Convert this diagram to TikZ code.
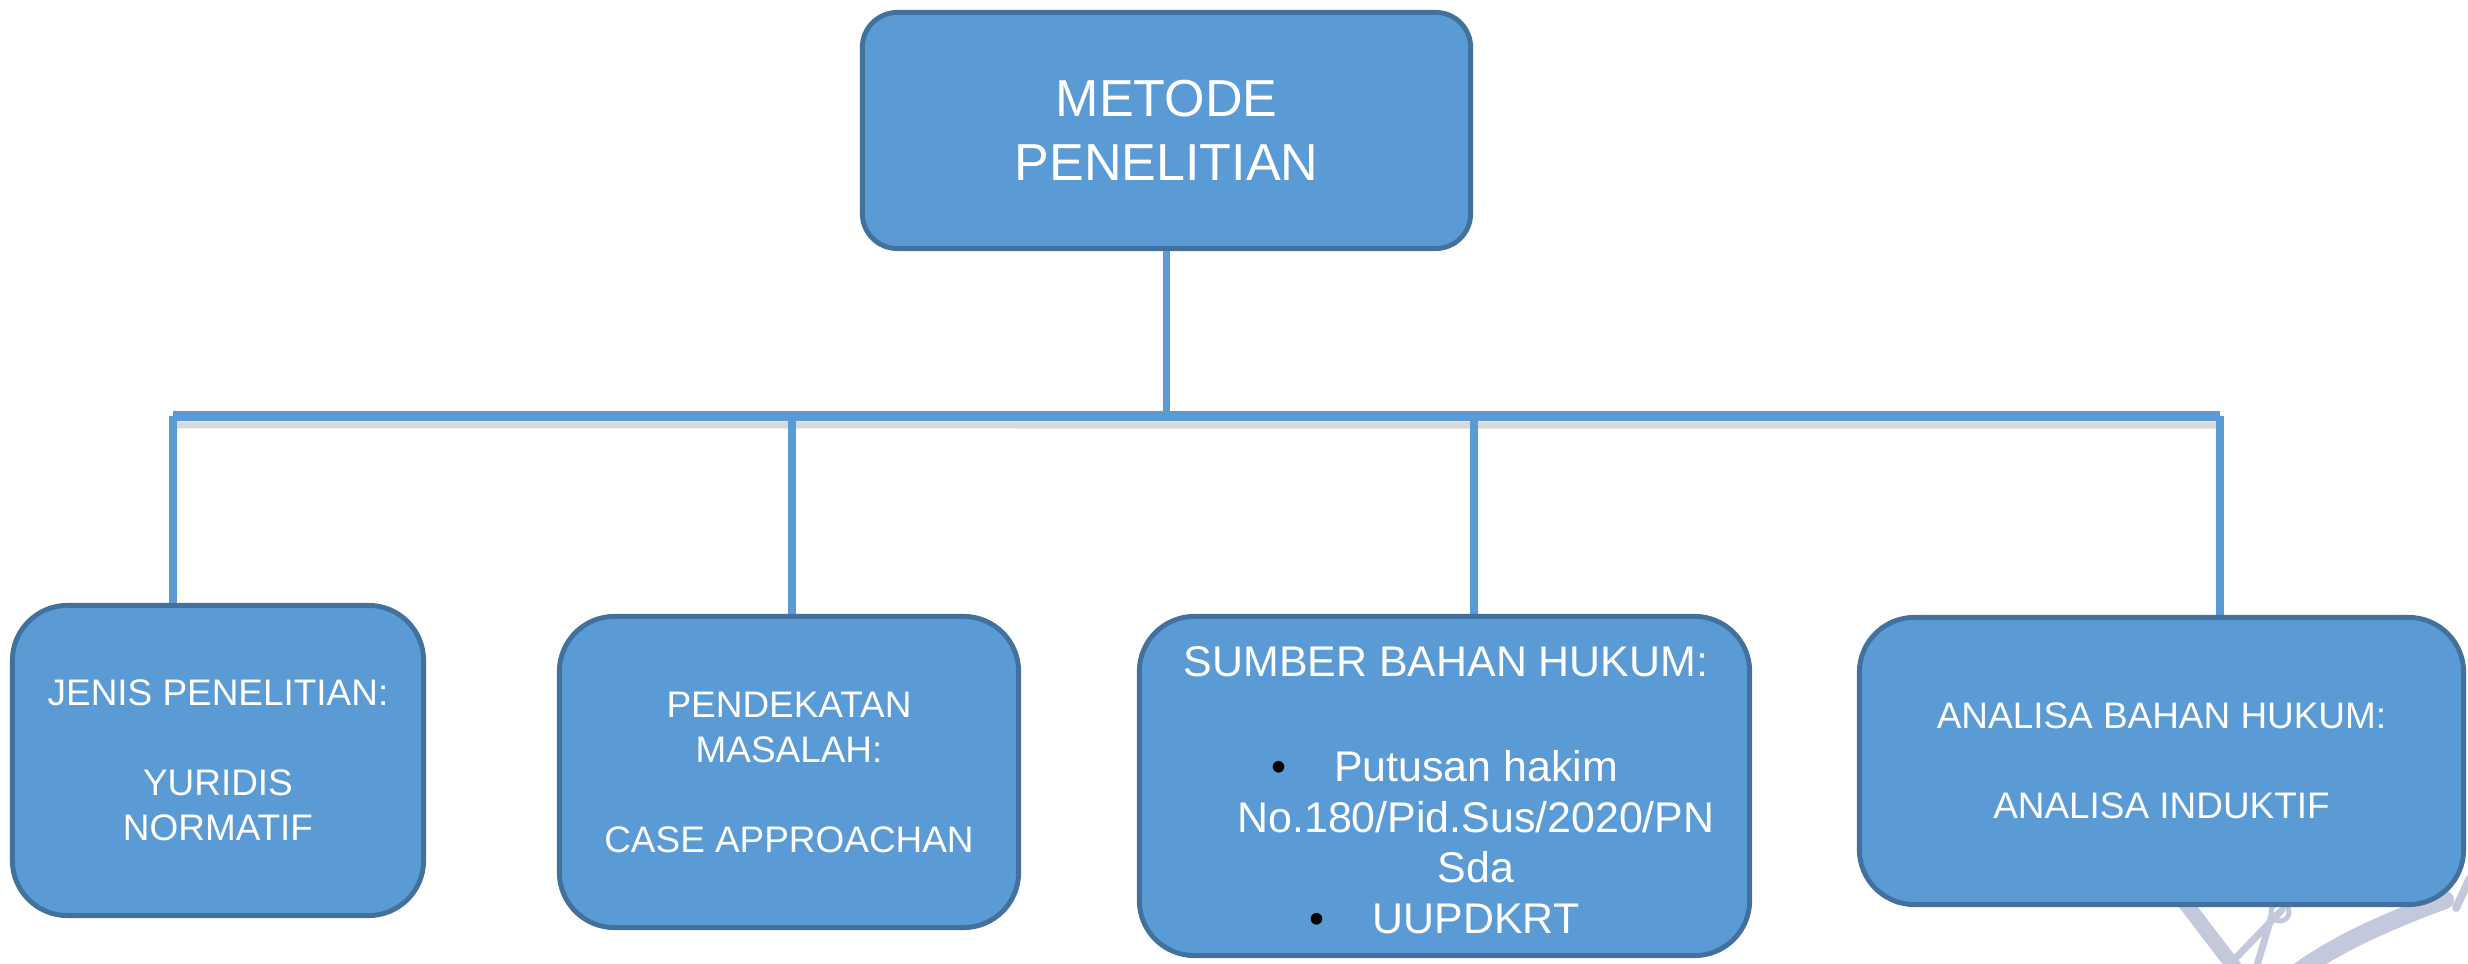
\documentclass[tikz,border=0pt]{standalone}
\usepackage{fontspec}
\setmainfont{Liberation Sans}
\definecolor{boxfill}{HTML}{5B9BD5}
\definecolor{boxline}{HTML}{41719C}
\definecolor{wmark}{HTML}{C3C9DA}
\begin{document}
\begin{tikzpicture}[x=0.01cm,y=-0.01cm,
  box/.style={draw=boxline, fill=boxfill, line width=1.4pt, rounded corners=0.55cm,
    text=white, align=center, inner sep=0pt},
  small/.style={font=\fontsize{10.5pt}{12.8pt}\selectfont},
  mid/.style={font=\fontsize{12.2pt}{14.35pt}\selectfont, text=white, align=center, inner sep=0pt},
  conn/.style={draw=boxfill, line width=2pt},
  wm/.style={draw=wmark, line cap=round}]
\useasboundingbox (0,0) rectangle (2468,964);

% watermark fragments
\draw[wm, line width=0.15cm] (2183,900) -- (2238,972);
\draw[wm, line width=0.07cm] (2282,910) -- (2228,966);
\draw[wm, line width=0.07cm] (2272,915) -- (2255,972);
\draw[wm, line width=0.05cm] (2280,912) circle (9);
\draw[wm, line width=0.18cm] (2445,900) .. controls (2385,922) and (2335,945) .. (2298,972);
\draw[wm, line width=0.08cm] (2470,878) -- (2456,908);

% coordinates of the bus bar
\coordinate (busL) at (173,416);
\coordinate (j2) at (792,416);
\coordinate (j3) at (1474,416);
\coordinate (busR) at (2220,416);

% top box
\node[box, rounded corners=0.35cm, minimum width=6.08cm, minimum height=2.36cm,
  font=\fontsize{14.8pt}{18.2pt}\selectfont] (top) at (1166.5,130.5) {METODE\\PENELITIAN};

% connectors
\draw[black, opacity=0.15, line width=0.07cm] (busL) ++(0,9) -- ([yshift=-0.09cm]busR);
\draw[conn] (top.south) -- (top.south |- busL);
\draw[draw=boxfill, line width=2.6pt] (busL) -- (busR);
\coordinate (b1top) at (173,605);
\coordinate (b2top) at (792,616);
\coordinate (b3top) at (1474,616);
\coordinate (b4top) at (2220,617);
\draw[conn] (busL) -- (b1top);
\draw[conn] (j2) -- (b2top);
\draw[conn] (j3) -- (b3top);
\draw[conn] (busR) -- (b4top);

\node[box, small, minimum width=4.11cm, minimum height=3.10cm] (b1) at (218,760.5)
  {JENIS PENELITIAN:\\[12.8pt]YURIDIS\\NORMATIF};
\node[box, small, minimum width=4.59cm, minimum height=3.11cm] (b2) at (789,772)
  {PENDEKATAN\\MASALAH:\\[12.8pt]CASE APPROACHAN};
\node[box, minimum width=6.10cm, minimum height=3.39cm] (b3) at (1444.5,786) {};
\node[box, small, minimum width=6.04cm, minimum height=2.87cm] (b4) at (2161.5,761)
  {ANALISA BAHAN HUKUM:\\[12.8pt]ANALISA INDUKTIF};

\node[mid] (b3title) at (1446,662) {SUMBER BAHAN HUKUM:};
\node[mid] (b3list) at (1476,842)
  {\llap{\textcolor{black}{•}\hspace{4.8mm}}Putusan hakim\\No.180/Pid.Sus/2020/PN\\Sda\\\llap{\textcolor{black}{•}\hspace{4.8mm}}UUPDKRT};
\end{tikzpicture}
\end{document}
